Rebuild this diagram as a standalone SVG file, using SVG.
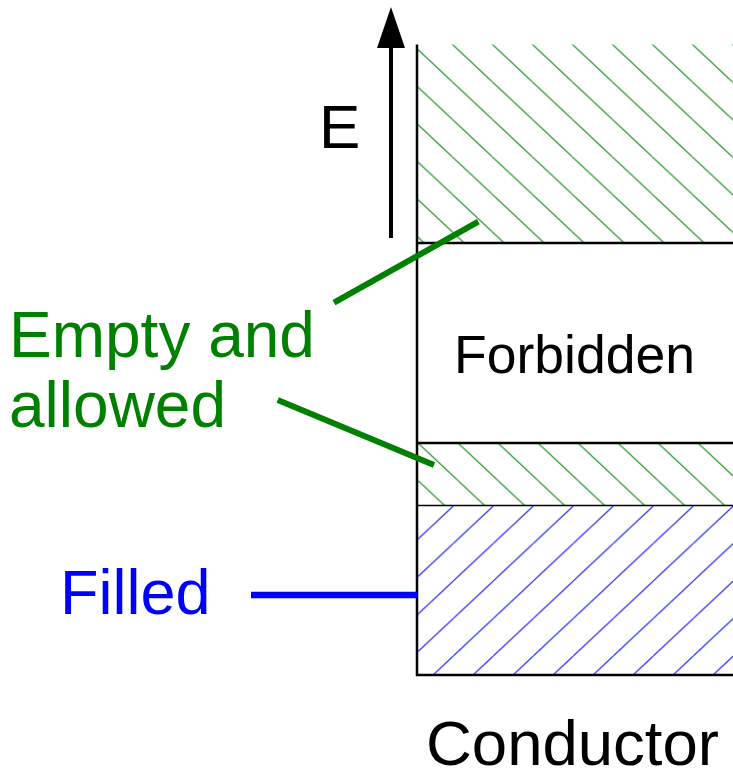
<svg xmlns="http://www.w3.org/2000/svg" width="733" height="768" viewBox="0 0 733 768">
  <style>
    .lbl { font-family: "Liberation Sans", Arial, sans-serif; }
    .hatchG { stroke: #008000; stroke-width: 1; fill: none; }
    .hatchB { stroke: #0000ff; stroke-width: 1; fill: none; }
    .edge { stroke: #000; stroke-width: 2.5; fill: none; }
    .thin { stroke: #000; stroke-width: 1.5; fill: none; }
    .leadG { stroke: #008000; stroke-width: 6; fill: none; }
    .leadB { stroke: #0000ff; stroke-width: 6.5; fill: none; }
  </style>
  <defs>
    <pattern id="g1" patternUnits="userSpaceOnUse" x="412.3" y="44.3" width="40" height="37.5">
      <path class="hatchG" d="M0,0 L40,37.5 M-40,0 L0,37.5 M40,0 L80,37.5"/>
    </pattern>
    <pattern id="g2" patternUnits="userSpaceOnUse" x="458.3" y="443.3" width="40" height="37.5">
      <path class="hatchG" d="M0,0 L40,37.5 M-40,0 L0,37.5 M40,0 L80,37.5"/>
    </pattern>
    <pattern id="b1" patternUnits="userSpaceOnUse" x="453.3" y="468.5" width="40" height="37.5">
      <path class="hatchB" d="M0,37.5 L40,0 M-40,37.5 L0,0 M40,37.5 L80,0"/>
    </pattern>
  </defs>
  <rect width="733" height="768" fill="#fff"/>

  <g id="band-empty-upper">
    <rect x="417" y="44.5" width="330" height="198.5" fill="url(#g1)"/>
  </g>
  <g id="band-forbidden">
    <rect x="417" y="243" width="330" height="200" fill="#fff"/>
    <text class="lbl" x="454" y="373" font-size="53.5" fill="#000">Forbidden</text>
  </g>
  <g id="band-empty-lower">
    <rect x="417" y="443" width="330" height="62.5" fill="url(#g2)"/>
  </g>
  <g id="band-filled">
    <rect x="417" y="505.5" width="330" height="169.5" fill="url(#b1)"/>
  </g>
  <g id="frame">
    <path class="edge" d="M417,44.5 V675 H747"/>
    <path class="edge" d="M417,243 H747 M417,443 H747"/>
    <path class="thin" d="M417,505.5 H747"/>
  </g>

  <g id="energy-axis">
    <path d="M391,238 V46" stroke="#000" stroke-width="4" fill="none"/>
    <path d="M377,48 L391,7 L405,48 Z" fill="#000"/>
    <text class="lbl" x="319" y="148" font-size="62" fill="#000">E</text>
  </g>

  <g id="label-empty">
    <text class="lbl" x="9" y="356.5" font-size="64" fill="#008000">Empty and</text>
    <text class="lbl" x="9" y="427" font-size="64" fill="#008000">allowed</text>
  </g>
  <g id="label-filled">
    <text class="lbl" x="60" y="614" font-size="63" fill="#0000ff">Filled</text>
  </g>
  <g id="label-conductor">
    <text class="lbl" x="426" y="765" font-size="63.5" fill="#000">Conductor</text>
  </g>

  <g id="connectors">
    <line class="leadG" x1="334" y1="302.7" x2="478.3" y2="221.7"/>
    <line class="leadG" x1="277.7" y1="400" x2="434" y2="465"/>
    <line class="leadB" x1="251" y1="595" x2="417" y2="595"/>
  </g>
</svg>
